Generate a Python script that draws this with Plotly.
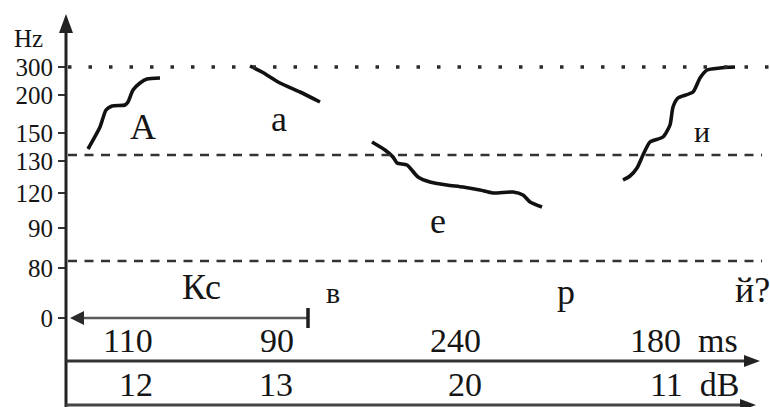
import plotly.graph_objects as go

W, H = 770, 407
FONT = "Liberation Serif"
INK = "#151515"

# Vertical scale: position of each Hz tick on the (non-linear) pitch axis
hz_labels = ["300", "200", "150", "130", "120", "90", "80", "0"]
hz_pos = [67, 95, 133, 161, 193, 228, 268, 318]

# Pitch contours (horizontal position, vertical position on the pitch scale)
contour_A_x = [88, 100, 106, 112, 125, 128, 133, 140, 147, 160]
contour_A_y = [149, 127, 110, 106, 105, 102, 90, 83, 79, 78]

contour_a_x = [250, 262, 280, 300, 320]
contour_a_y = [66, 72, 83, 92, 102]

contour_e_x = [372, 385, 393, 397, 407, 418, 430, 447, 463, 480, 493, 513, 523, 530, 542]
contour_e_y = [142, 150, 157, 163, 165, 177, 182, 185, 187, 190, 193, 192, 195, 202, 207]

contour_i_x = [623, 630, 637, 643, 650, 663, 670, 673, 678, 693, 700, 707, 720, 735]
contour_i_y = [180, 176, 168, 155, 142, 137, 125, 107, 98, 92, 78, 70, 68, 67]

# Reference levels
level_300 = 67
level_130 = 155
level_80 = 261

# Segment labels
seg_text = ["А", "а", "е", "и", "Кс", "в", "р", "й?"]
seg_x = [143, 279, 438, 702, 201, 333, 566, 752]
seg_y = [127, 119, 221, 131, 287, 292, 292, 290]
seg_size = [36, 36, 36, 30, 36, 30, 36, 36]

# Durations (ms) and intensities (dB)
dur_text = ["110", "90", "240", "180&nbsp;&nbsp;ms"]
dur_x = [128, 277, 455, 684]
db_text = ["12", "13", "20", "11&nbsp;&nbsp;dB"]
db_x = [136, 276, 465, 694]
row_ms_y = 340
row_db_y = 384

# Axis / guide geometry
axis_x = 66
ms_line_y = 361
db_line_y = 405
zero_y = 318
kc_end_x = 308

fig = go.Figure()

# Guide lines
fig.add_shape(type="line", x0=axis_x + 2, x1=770, y0=level_300, y1=level_300,
              line=dict(color="#2a2a2a", width=3.5, dash="3.5px,17px"))
for lv in (level_130, level_80):
    fig.add_shape(type="line", x0=axis_x + 2, x1=762, y0=lv, y1=lv,
                  line=dict(color="#333333", width=2.5, dash="9px,7.5px"))

# Contours
for cx, cy in ((contour_A_x, contour_A_y), (contour_a_x, contour_a_y),
               (contour_e_x, contour_e_y), (contour_i_x, contour_i_y)):
    fig.add_trace(go.Scatter(x=cx, y=cy, mode="lines",
                             line=dict(color="#111111", width=3.6, shape="spline", smoothing=0.6),
                             hoverinfo="skip", showlegend=False))

# Vertical axis line with arrow
fig.add_shape(type="line", x0=axis_x, x1=axis_x, y0=24, y1=H,
              line=dict(color="#222222", width=3))
fig.add_shape(type="path", path=f"M {axis_x} 14 L {axis_x-7} 33 L {axis_x+7} 33 Z",
              fillcolor="#222222", line=dict(width=0))

# Кс span arrow at 0 level
fig.add_shape(type="line", x0=axis_x + 12, x1=kc_end_x, y0=zero_y, y1=zero_y,
              line=dict(color="#5a5a5a", width=2.5))
fig.add_shape(type="path",
              path=f"M {axis_x+4} {zero_y} L {axis_x+18} {zero_y-7} L {axis_x+18} {zero_y+7} Z",
              fillcolor="#2a2a2a", line=dict(width=0))
fig.add_shape(type="line", x0=kc_end_x, x1=kc_end_x, y0=zero_y - 10, y1=zero_y + 10,
              line=dict(color="#1e1e1e", width=3.5))

# ms line with arrow
fig.add_shape(type="line", x0=axis_x, x1=748, y0=ms_line_y, y1=ms_line_y,
              line=dict(color="#333333", width=3))
fig.add_shape(type="path",
              path=f"M 760 {ms_line_y} L 744 {ms_line_y-6} L 744 {ms_line_y+6} Z",
              fillcolor="#222222", line=dict(width=0))
# dB line with arrow
fig.add_shape(type="line", x0=axis_x, x1=745, y0=db_line_y, y1=db_line_y,
              line=dict(color="#444444", width=3))
fig.add_shape(type="path",
              path=f"M 756 {db_line_y} L 740 {db_line_y-6} L 740 {db_line_y+6} Z",
              fillcolor="#222222", line=dict(width=0))

annotations = []
annotations.append(dict(x=28, y=38, text="Hz", font=dict(size=25, family=FONT, color=INK)))
for t, x, y, s in zip(seg_text, seg_x, seg_y, seg_size):
    annotations.append(dict(x=x, y=y, text=t, font=dict(size=s, family=FONT, color=INK)))
for t, x in zip(dur_text, dur_x):
    annotations.append(dict(x=x, y=row_ms_y, text=t, font=dict(size=34, family=FONT, color=INK)))
for t, x in zip(db_text, db_x):
    annotations.append(dict(x=x, y=row_db_y, text=t, font=dict(size=34, family=FONT, color=INK)))
for a in annotations:
    a.update(xref="x", yref="y", showarrow=False, xanchor="center", yanchor="middle")

fig.update_layout(
    width=W, height=H,
    margin=dict(l=0, r=0, t=0, b=0),
    paper_bgcolor="white", plot_bgcolor="white",
    showlegend=False,
    font=dict(family=FONT, color=INK),
    annotations=annotations,
    xaxis=dict(range=[0, W], visible=False, fixedrange=True),
    yaxis=dict(range=[H, 0], showgrid=False, zeroline=False, showline=False,
               anchor="free", position=axis_x / W,
               tickmode="array", tickvals=hz_pos, ticktext=hz_labels,
               ticks="outside", ticklen=8, tickwidth=2.5, tickcolor="#333333",
               tickfont=dict(size=25, family=FONT, color=INK), fixedrange=True),
)

fig.write_html(
    "out.html",
    config={"staticPlot": True},
    post_script="document.body.style.margin='0';document.body.style.padding='0';"
                "document.body.style.overflow='hidden';",
)
